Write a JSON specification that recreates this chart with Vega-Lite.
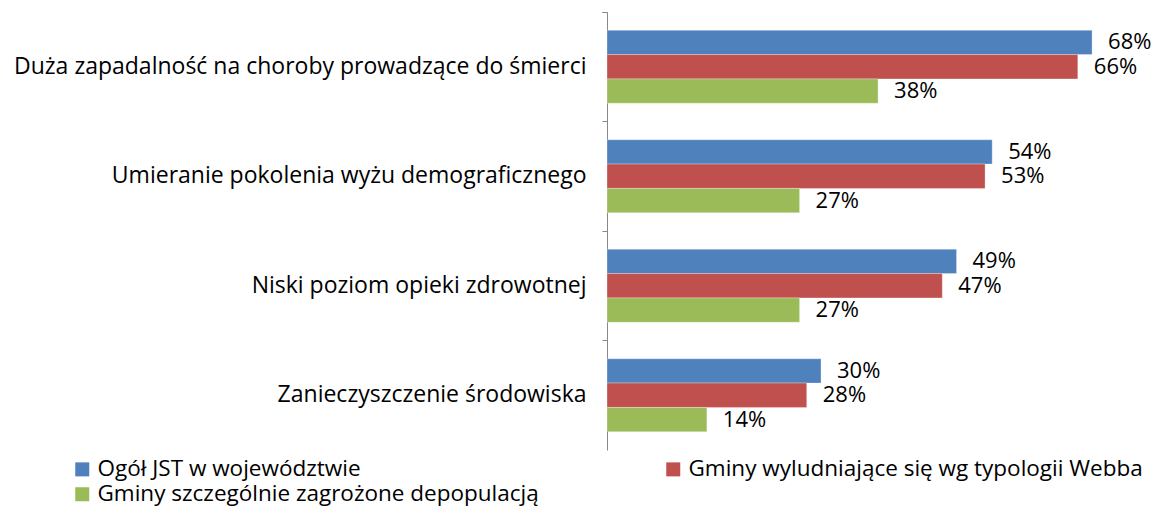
{
  "$schema": "https://vega.github.io/schema/vega-lite/v6.json",
  "width": 535,
  "height": 438,
  "autosize": {"type": "none"},
  "padding": {"left": 607, "top": 12, "right": 18, "bottom": 65},
  "background": "white",
  "config": {"view": {"stroke": null}, "font": "Open Sans"},
  "data": {
    "values": [
      {"category": "Duża zapadalność na choroby prowadzące do śmierci", "order": 1, "series": "Ogół JST w województwie", "value": 0.68},
      {"category": "Duża zapadalność na choroby prowadzące do śmierci", "order": 1, "series": "Gminy wyludniające się wg typologii Webba", "value": 0.66},
      {"category": "Duża zapadalność na choroby prowadzące do śmierci", "order": 1, "series": "Gminy szczególnie zagrożone depopulacją", "value": 0.38},
      {"category": "Umieranie pokolenia wyżu demograficznego", "order": 2, "series": "Ogół JST w województwie", "value": 0.54},
      {"category": "Umieranie pokolenia wyżu demograficznego", "order": 2, "series": "Gminy wyludniające się wg typologii Webba", "value": 0.53},
      {"category": "Umieranie pokolenia wyżu demograficznego", "order": 2, "series": "Gminy szczególnie zagrożone depopulacją", "value": 0.27},
      {"category": "Niski poziom opieki zdrowotnej", "order": 3, "series": "Ogół JST w województwie", "value": 0.49},
      {"category": "Niski poziom opieki zdrowotnej", "order": 3, "series": "Gminy wyludniające się wg typologii Webba", "value": 0.47},
      {"category": "Niski poziom opieki zdrowotnej", "order": 3, "series": "Gminy szczególnie zagrożone depopulacją", "value": 0.27},
      {"category": "Zanieczyszczenie środowiska", "order": 4, "series": "Ogół JST w województwie", "value": 0.30},
      {"category": "Zanieczyszczenie środowiska", "order": 4, "series": "Gminy wyludniające się wg typologii Webba", "value": 0.28},
      {"category": "Zanieczyszczenie środowiska", "order": 4, "series": "Gminy szczególnie zagrożone depopulacją", "value": 0.14}
    ]
  },
  "encoding": {
    "y": {
      "field": "category",
      "type": "nominal",
      "sort": {"field": "order", "order": "ascending"},
      "scale": {"paddingInner": 0, "paddingOuter": 0},
      "axis": {
        "title": null,
        "domainColor": "#888888",
        "tickColor": "#888888",
        "tickSize": 5,
        "tickExtra": true,
        "bandPosition": 0,
        "labelFontSize": 23,
        "labelColor": "#000000",
        "labelPadding": 16,
        "labelLimit": 700
      }
    },
    "yOffset": {
      "field": "series",
      "type": "nominal",
      "sort": ["Ogół JST w województwie", "Gminy wyludniające się wg typologii Webba", "Gminy szczególnie zagrożone depopulacją"],
      "scale": {"paddingInner": 0, "paddingOuter": 0.75}
    },
    "x": {
      "field": "value",
      "type": "quantitative",
      "scale": {"domain": [0, 0.75], "nice": false},
      "axis": null
    }
  },
  "layer": [
    {
      "mark": {"type": "bar", "stroke": "#ffffff", "strokeWidth": 0.5, "strokeOpacity": 0.6},
      "encoding": {
        "color": {
          "field": "series",
          "type": "nominal",
          "scale": {
            "domain": ["Ogół JST w województwie", "Gminy wyludniające się wg typologii Webba", "Gminy szczególnie zagrożone depopulacją"],
            "range": ["#4F81BD", "#C0504D", "#9BBB59"]
          },
          "legend": {
            "title": null,
            "orient": "none",
            "legendX": -536,
            "legendY": 446,
            "direction": "horizontal",
            "columns": 2,
            "columnPadding": 123,
            "rowPadding": 2,
            "symbolType": "square",
            "symbolSize": 196,
            "symbolStrokeWidth": 0,
            "labelFontSize": 22.5,
            "labelColor": "#000000",
            "labelOffset": 4,
            "labelLimit": 700
          }
        }
      }
    },
    {
      "mark": {"type": "text", "align": "left", "baseline": "middle", "dx": 16, "fontSize": 22, "color": "#000000"},
      "encoding": {
        "text": {"field": "value", "type": "quantitative", "format": ".0%"}
      }
    }
  ]
}
